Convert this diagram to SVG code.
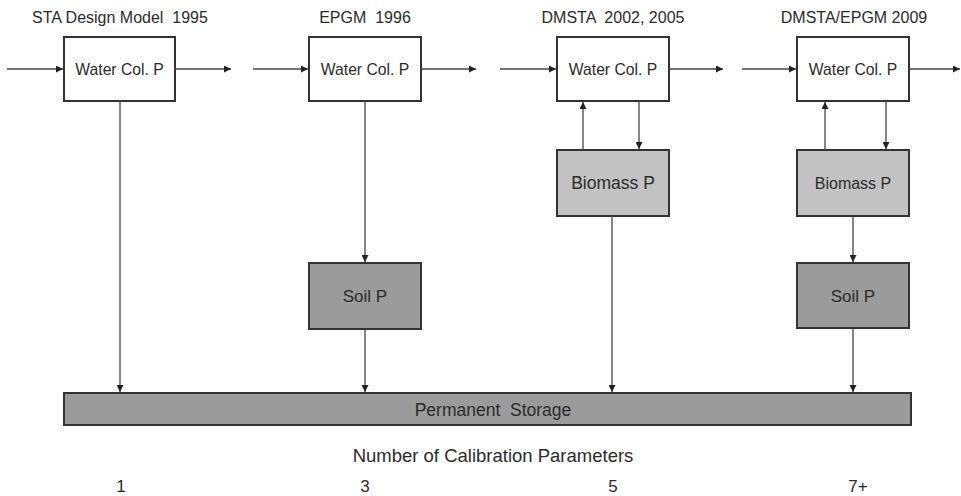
<svg xmlns="http://www.w3.org/2000/svg" width="961" height="496" viewBox="0 0 961 496">
<style>
text{font-family:"Liberation Sans",Arial,sans-serif;fill:#2b2b2b;text-anchor:middle;dominant-baseline:central;white-space:pre}
.t{font-size:16px}
.wt{font-size:15.7px}
.b{stroke:#333;stroke-width:2}
.w{fill:#fff}
.bio{fill:#c2c2c2}
.soil{fill:#9b9b9b}
.c{stroke:#444;stroke-width:1.3;fill:none;marker-end:url(#ah)}
</style>
<defs>
<marker id="ah" viewBox="0 0 10 10" refX="10" refY="5" markerWidth="7" markerHeight="7" markerUnits="userSpaceOnUse" orient="auto">
<path d="M0,0 L10,5 L0,10 z" fill="#222"/>
</marker>
</defs>
<g id="titles">
<text class="t" x="120" y="17" xml:space="preserve">STA Design Model  1995</text>
<text class="t" x="365" y="17" xml:space="preserve">EPGM  1996</text>
<text class="t" x="613" y="17" xml:space="preserve">DMSTA  2002, 2005</text>
<text class="t" x="854" y="17">DMSTA/EPGM 2009</text>
</g>
<g id="water1"><rect class="b w" x="64" y="37" width="111" height="64"/><text class="wt" x="119.5" y="69">Water Col. P</text></g>
<g id="water2"><rect class="b w" x="309" y="37" width="112" height="64"/><text class="wt" x="365" y="69">Water Col. P</text></g>
<g id="water3"><rect class="b w" x="557" y="37" width="112" height="64"/><text class="wt" x="613" y="69">Water Col. P</text></g>
<g id="water4"><rect class="b w" x="797" y="37" width="112" height="64"/><text class="wt" x="853" y="69">Water Col. P</text></g>
<g id="biomass3"><rect class="b bio" x="557" y="150" width="112" height="66"/><text x="613" y="183" style="font-size:17.5px">Biomass P</text></g>
<g id="biomass4"><rect class="b bio" x="797" y="150" width="112" height="66"/><text x="853" y="183" style="font-size:16px">Biomass P</text></g>
<g id="soil2"><rect class="b soil" x="309" y="263" width="112" height="66"/><text x="365" y="296" style="font-size:17px">Soil P</text></g>
<g id="soil4"><rect class="b soil" x="797" y="263" width="112" height="65"/><text x="853" y="296" style="font-size:17px">Soil P</text></g>
<g id="storage"><rect class="b soil" x="64" y="393" width="847" height="32"/><text x="493" y="410" style="font-size:17.5px" xml:space="preserve">Permanent  Storage</text></g>
<g id="labels">
<text x="493" y="455" style="font-size:18.5px">Number of Calibration Parameters</text>
<text x="121" y="486" style="font-size:17px">1</text>
<text x="365" y="486" style="font-size:17px">3</text>
<text x="613" y="486" style="font-size:17px">5</text>
<text x="858" y="486" style="font-size:17px">7+</text>
</g>
<g id="connectors">
<line class="c" x1="7" y1="69" x2="63" y2="69"/>
<line class="c" x1="175" y1="69" x2="231" y2="69"/>
<line class="c" x1="253" y1="69" x2="308" y2="69"/>
<line class="c" x1="421" y1="69" x2="476" y2="69"/>
<line class="c" x1="500" y1="69" x2="556" y2="69"/>
<line class="c" x1="669" y1="69" x2="723" y2="69"/>
<line class="c" x1="742" y1="69" x2="796" y2="69"/>
<line class="c" x1="909" y1="69" x2="960" y2="69"/>
<line class="c" x1="120" y1="101" x2="120" y2="392"/>
<line class="c" x1="365" y1="101" x2="365" y2="262"/>
<line class="c" x1="365" y1="329" x2="365" y2="392"/>
<line class="c" x1="583" y1="150" x2="583" y2="102"/>
<line class="c" x1="639" y1="101" x2="639" y2="149"/>
<line class="c" x1="612" y1="216" x2="612" y2="392"/>
<line class="c" x1="825" y1="150" x2="825" y2="102"/>
<line class="c" x1="886" y1="101" x2="886" y2="149"/>
<line class="c" x1="853" y1="216" x2="853" y2="262"/>
<line class="c" x1="853" y1="328" x2="853" y2="392"/>
</g>
</svg>
